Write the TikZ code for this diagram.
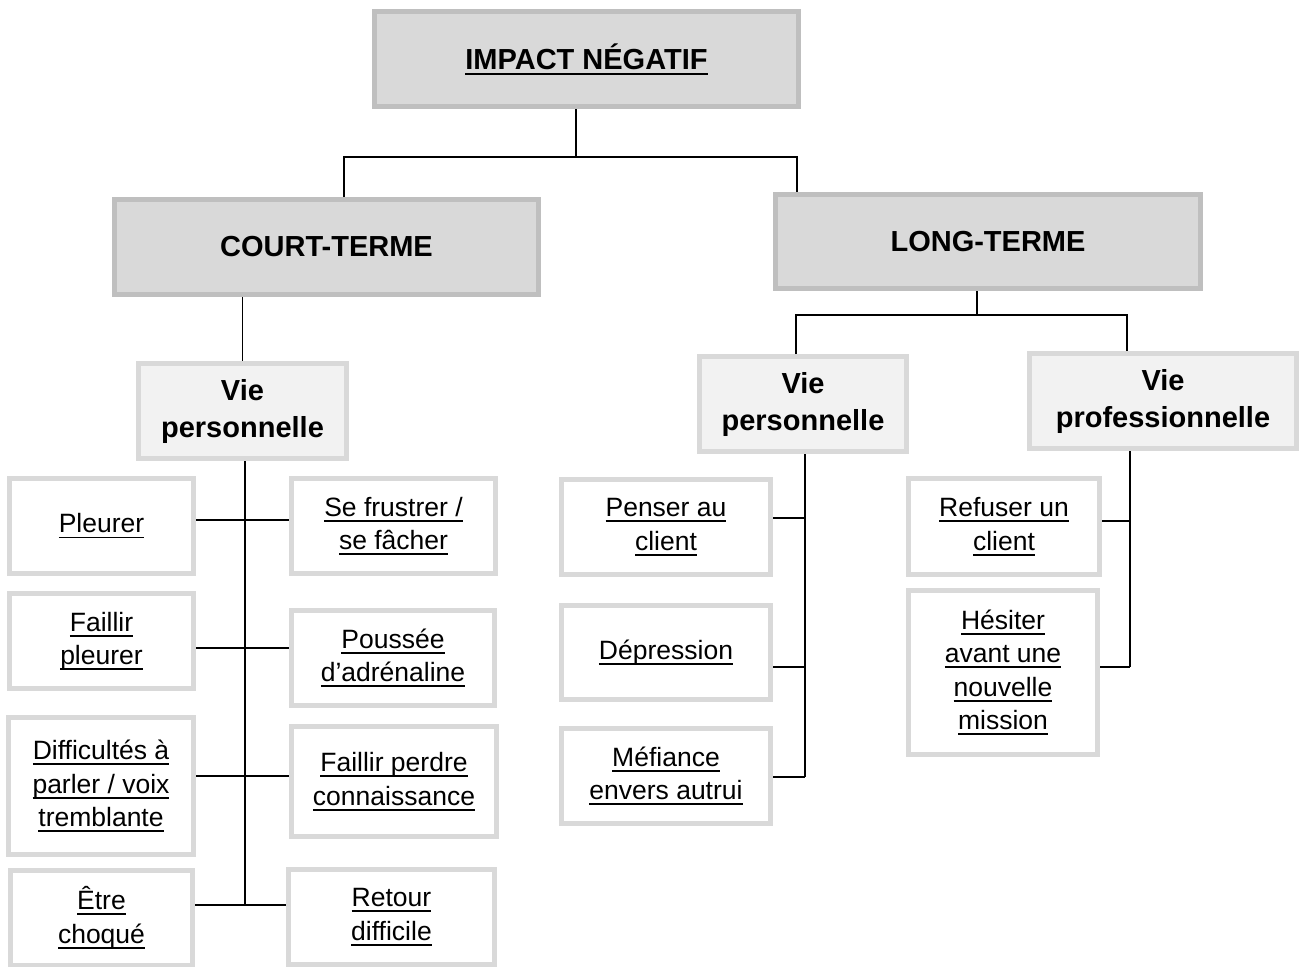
\documentclass[tikz,border=0pt]{standalone}
\usepackage{fontspec}
\setmainfont{Liberation Sans}
\newcommand{\souligne}[1]{\setbox0\hbox{#1}\rlap{\rule[-5.5pt]{\wd0}{1.8pt}}\box0}
\definecolor{grisA}{HTML}{BFBFBF}
\definecolor{grisB}{HTML}{D9D9D9}
\definecolor{grisC}{HTML}{F2F2F2}

\begin{document}
\begin{tikzpicture}[x=1pt,y=-1pt]
\tikzstyle{Titre} = [draw=grisA, line width=5, fill=grisB, inner sep=0, align=center, font=\fontsize{29}{37}\selectfont\bfseries]
\tikzstyle{Domaine} = [draw=grisB, line width=5, fill=grisC, inner sep=0, align=center, font=\fontsize{29}{37}\selectfont\bfseries]
\tikzstyle{Effet} = [draw=grisB, line width=5, fill=white, inner sep=0, align=center, minimum height=95, font=\fontsize{26.5}{33.5}\selectfont]

\useasboundingbox (0,0) rectangle (1302,967);

\node [Titre, minimum width=424, minimum height=95] (v1) at (586.5,59) {\souligne{IMPACT NÉGATIF}};
\node [Titre, minimum width=424, minimum height=95] (v2) at (326.5,247) {COURT-TERME};
\node [Titre, minimum width=425, minimum height=94] (v3) at (988,241.5) {LONG-TERME};
\node [Domaine, minimum width=208, minimum height=95] (v4) at (242.5,411) {Vie\\personnelle};
\node [Domaine, minimum width=207, minimum height=95] (v5) at (803,404) {Vie\\personnelle};
\node [Domaine, minimum width=267, minimum height=95] (v6) at (1163,401) {Vie\\professionnelle};

\node [Effet, minimum width=184] (v7) at (101.5,526) {\souligne{Pleurer}};
\node [Effet, minimum width=204] (v8) at (393.5,526) {\souligne{Se frustrer /}\\\souligne{se fâcher}};
\node [Effet, minimum width=184] (v9) at (101.5,641) {\souligne{Faillir}\\\souligne{pleurer}};
\node [Effet, minimum width=203] (v10) at (393,658) {\souligne{Poussée}\\\souligne{d’adrénaline}};
\node [Effet, minimum width=185, minimum height=137] (v11) at (101,786) {\souligne{Difficultés à}\\\souligne{parler / voix}\\\souligne{tremblante}};
\node [Effet, minimum width=205, minimum height=110] (v12) at (394,781.5) {\souligne{Faillir perdre}\\\souligne{connaissance}};
\node [Effet, minimum width=182] (v13) at (101.5,917.5) {\souligne{Être}\\\souligne{choqué}};
\node [Effet, minimum width=206] (v14) at (391.5,917) {\souligne{Retour}\\\souligne{difficile}};

\node [Effet, minimum width=209] (v15) at (666,527) {\souligne{Penser au}\\\souligne{client}};
\node [Effet, minimum width=209, minimum height=94] (v16) at (666,652.5) {\souligne{Dépression}};
\node [Effet, minimum width=209] (v17) at (666,776) {\souligne{Méfiance}\\\souligne{envers autrui}};

\node [Effet, minimum width=191, minimum height=96] (v18) at (1004,526.5) {\souligne{Refuser un}\\\souligne{client}};
\node [Effet, minimum width=189, minimum height=164] (v19) at (1003,672.5) {\souligne{Hésiter}\\\souligne{avant une}\\\souligne{nouvelle}\\\souligne{mission}};

\tikzstyle{Lignes} = [line width=1.5, color=black]
\coordinate (j1) at (576,157);
\coordinate (j1l) at (344,157);
\coordinate (j1r) at (797,157);
\draw [Lignes] (v1.south -| j1) -- (j1);
\draw [Lignes] (v2.north -| j1l) -- (j1l) -- (j1r) -- (v3.north -| j1r);
\draw [Lignes] (v2.south -| v4) -- (v4.north);

\coordinate (j2) at (977,315);
\coordinate (j2l) at (796,315);
\coordinate (j2r) at (1127,315);
\draw [Lignes] (v3.south -| j2) -- (j2);
\draw [Lignes] (v5.north -| j2l) -- (j2l) -- (j2r) -- (v6.north -| j2r);

\coordinate (s1) at (245,905);
\draw [Lignes] (v4.south -| s1) -- (s1);
\draw [Lignes] (v7.east |- 0,520) -- (v8.west |- 0,520);
\draw [Lignes] (v9.east |- 0,648) -- (v10.west |- 0,648);
\draw [Lignes] (v11.east |- 0,776) -- (v12.west |- 0,776);
\draw [Lignes] (v13.east |- s1) -- (v14.west |- s1);

\coordinate (s2) at (805,777);
\draw [Lignes] (v5.south -| s2) -- (s2);
\draw [Lignes] (v15.east |- 0,518) -- (s2 |- 0,518);
\draw [Lignes] (v16.east |- 0,667) -- (s2 |- 0,667);
\draw [Lignes] (v17.east |- s2) -- (s2);

\coordinate (s3) at (1130,667);
\draw [Lignes] (v6.south -| s3) -- (s3);
\draw [Lignes] (v18.east |- 0,521) -- (s3 |- 0,521);
\draw [Lignes] (v19.east |- s3) -- (s3);
\end{tikzpicture}
\end{document}
